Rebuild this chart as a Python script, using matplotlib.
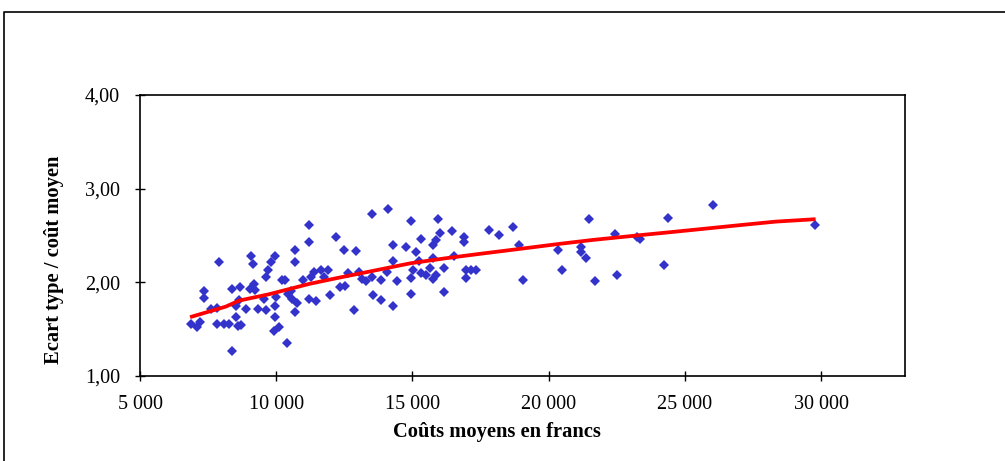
import matplotlib
matplotlib.use("Agg")
import matplotlib.pyplot as plt
from matplotlib.lines import Line2D

plt.rcParams['font.family'] = ['Liberation Serif', 'DejaVu Serif']

# Scatter data: average cost (francs) vs std-dev / average cost
cout_moyen = [6870, 7110, 7200, 7340, 7340, 7600, 7830, 7910, 7840, 8090,
              8270, 8370, 8370, 8520, 8540, 8580, 8680, 8700, 8640, 8880,
              9070, 9130, 9030, 9190, 9230, 9320, 9560, 9620, 9640, 9710,
              9800, 9950, 9950, 9950, 9920, 10110, 9980, 10230, 10330, 10410,
              10440, 10540, 10590, 10680, 10680, 10680, 10780, 10990, 11210, 11210,
              11210, 11270, 11390, 11450, 11640, 11760, 11910, 11970, 12190, 12330,
              12490, 12530, 12640, 12870, 12940, 13040, 13160, 13310, 13530, 13550,
              13530, 13840, 13840, 14100, 14290, 14290, 14290, 14080, 14450, 14750,
              14960, 14960, 14960, 15030, 15120, 15240, 15330, 15330, 15490, 15630,
              15770, 15770, 15850, 15770, 15880, 15940, 16000, 16160, 16160, 16460,
              16520, 16900, 16900, 16980, 17160, 17340, 16980, 17810, 18180, 18700,
              18910, 19060, 20350, 20480, 21170, 21170, 21380, 21480, 21700, 22430,
              22510, 23250, 23370, 24230, 24390, 26030, 29770]
ecart_rel = [1.56, 1.52, 1.58, 1.91, 1.83, 1.71, 1.73, 2.22, 1.55, 1.56,
             1.56, 1.27, 1.93, 1.63, 1.75, 1.53, 1.95, 1.54, 1.81, 1.72,
             2.28, 2.20, 1.93, 1.98, 1.92, 1.72, 1.82, 1.70, 2.06, 2.13,
             2.22, 2.28, 1.75, 1.63, 1.48, 1.52, 1.84, 2.03, 2.02, 1.35,
             1.88, 1.91, 1.82, 2.35, 2.22, 1.68, 1.78, 2.02, 2.61, 2.43,
             1.82, 2.06, 2.11, 1.80, 2.13, 2.06, 2.13, 1.87, 2.48, 1.95,
             2.35, 1.96, 2.10, 1.70, 2.33, 2.11, 2.04, 2.01, 2.73, 1.87,
             2.06, 2.03, 1.81, 2.78, 2.40, 2.23, 1.75, 2.11, 2.01, 2.38,
             2.66, 2.05, 1.88, 2.13, 2.32, 2.23, 2.46, 2.10, 2.08, 2.15,
             2.26, 2.40, 2.45, 2.04, 2.08, 2.68, 2.53, 2.15, 1.90, 2.55,
             2.28, 2.48, 2.43, 2.13, 2.13, 2.13, 2.05, 2.56, 2.50, 2.59,
             2.40, 2.03, 2.35, 2.13, 2.38, 2.32, 2.26, 2.68, 2.01, 2.52,
             2.08, 2.48, 2.46, 2.18, 2.69, 2.83, 2.61]

# Trend line
tendance_x = [6904, 8151, 8639, 9739, 11206, 12307, 13407, 14937, 16220, 17442,
              18909, 20376, 21598, 23432, 24657, 25879, 27100, 28325, 29730]
tendance_y = [1.634, 1.741, 1.805, 1.873, 1.983, 2.050, 2.114, 2.204, 2.257, 2.303,
              2.356, 2.410, 2.452, 2.506, 2.541, 2.577, 2.613, 2.648, 2.673]

x_ticks = [5000, 10000, 15000, 20000, 25000, 30000]
x_tick_labels = ["5 000", "10 000", "15 000", "20 000", "25 000", "30 000"]
y_ticks = [1.0, 2.0, 3.0, 4.0]
y_tick_labels = ["1,00", "2,00", "3,00", "4,00"]

fig = plt.figure(figsize=(10.05, 4.61), dpi=100)
ax = fig.add_axes([140/1005, 1 - 376/461, (905 - 140)/1005, (376 - 95)/461])

ax.plot(cout_moyen, ecart_rel, linestyle='none', marker='D', markersize=5.6,
        color='#3333CC', markeredgewidth=0, zorder=2)
ax.plot(tendance_x, tendance_y, color='#FF0000', linewidth=2.7, zorder=3)

ax.set_xlim(5000, 33080)
ax.set_ylim(1.0, 4.0)
ax.set_xticks(x_ticks)
ax.set_xticklabels(x_tick_labels)
ax.set_yticks(y_ticks)
ax.set_yticklabels(y_tick_labels)
ax.tick_params(direction='inout', length=7, width=1, labelsize=14.5, colors='black')
ax.tick_params(axis='x', pad=10)
ax.tick_params(axis='y', pad=11)

for s in ax.spines.values():
    s.set_linewidth(1.2)
    s.set_color('black')

fig.text(497/1005, 1 - 432/461, "Coûts moyens en francs", fontsize=14.8,
         fontweight='bold', ha='center', va='center')
fig.text(53.5/1005, 1 - 260/461, "Ecart type / coût moyen", fontsize=14.8,
         fontweight='bold', ha='center', va='center', rotation=90)

# outer chart-area border (top and left edges visible)
fig.add_artist(Line2D([4/1005, 4/1005, 1.0], [0.0, 1 - 12/461, 1 - 12/461],
                      color='black', linewidth=1.2, transform=fig.transFigure))

fig.savefig("out.png", dpi=100)
